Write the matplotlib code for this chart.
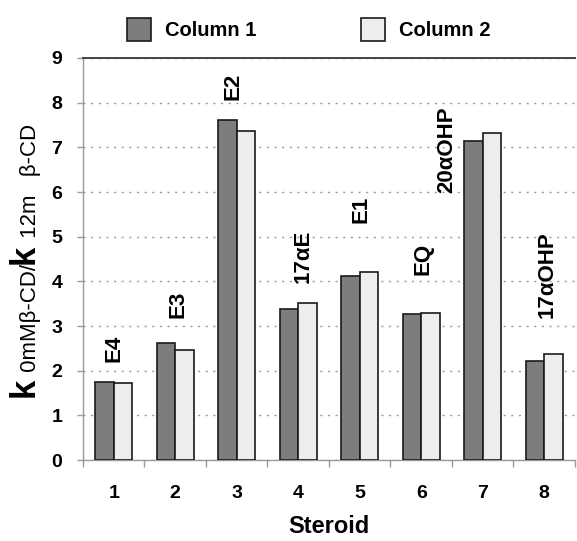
import matplotlib
matplotlib.use('Agg')
import matplotlib.pyplot as plt
import numpy as np

plt.rcParams['font.family'] = ['Liberation Sans', 'DejaVu Sans']

# values
steroids = ['1', '2', '3', '4', '5', '6', '7', '8']
column1 = [1.74, 2.62, 7.62, 3.38, 4.13, 3.26, 7.15, 2.22]
column2 = [1.72, 2.47, 7.37, 3.52, 4.20, 3.30, 7.31, 2.37]
names = ['E4', 'E3', 'E2', '17\u03b1E', 'E1', 'EQ', '20\u03b1OHP', '17\u03b1OHP']

# where the rotated names sit (x shift from the group centre, bottom y)
name_dx = [0.0, 0.05, -0.06, 0.08, 0.02, 0.03, -0.58, 0.05]
name_y = [2.2, 3.18, 8.05, 3.96, 5.3, 4.14, 5.97, 3.18]

fig = plt.figure(figsize=(5.77, 5.41), dpi=100)
ax = fig.add_axes([0.1438, 0.1497, 0.8527, 0.7431])

x = np.arange(len(steroids))
w = 0.30
ax.bar(x - w / 2, column1, w, color='#7d7d7d', edgecolor='#1a1a1a', linewidth=1.2,
       label='Column 1', zorder=3)
ax.bar(x + w / 2, column2, w, color='#ededed', edgecolor='#1a1a1a', linewidth=1.2,
       label='Column 2', zorder=3)

for i, name in enumerate(names):
    ax.text(x[i] + name_dx[i], name_y[i], name, rotation=90, ha='center', va='bottom',
            fontsize=16, fontweight='bold', zorder=4)

ax.set_xlim(-0.5, len(steroids) - 0.5)
ax.set_ylim(0, 9)
ax.set_yticks(range(0, 10))
ax.set_xticks(x)
ax.set_xticklabels(steroids)
ax.set_xticks(np.arange(len(steroids) + 1) - 0.5, minor=True)

ax.tick_params(axis='x', which='major', length=0, pad=18, labelsize=14)
ax.tick_params(axis='x', which='minor', length=5, width=1, color='#999999', direction='out')
ax.tick_params(axis='y', length=4, width=1, color='#999999', pad=11, labelsize=14)
for lab in ax.get_xticklabels() + ax.get_yticklabels():
    lab.set_fontweight('bold')

ax.grid(axis='y', linestyle=(0, (1.5, 4)), color='#9a9a9a', linewidth=1, zorder=0)
for side in ['left', 'bottom']:
    ax.spines[side].set_color('#999999')
    ax.spines[side].set_linewidth(1)
ax.spines['right'].set_visible(False)
ax.spines['top'].set_color('#444444')
ax.spines['top'].set_linewidth(1.4)

ax.set_xlabel('Steroid', fontsize=17, fontweight='bold', labelpad=9)

# y label made of mixed-size pieces, stacked bottom to top
pieces = [('k', 25, 'bold'), (' 0mM\u03b2-CD/', 16, 'normal'), ('k', 25, 'bold'),
          (' 12m   \u03b2-CD', 16, 'normal')]
prev = None
for txt, size, weight in pieces:
    if prev is None:
        prev = ax.annotate(txt, xy=(41, 541 - 397), xycoords='figure pixels', rotation=90,
                           ha='right', va='bottom', fontsize=size, fontweight=weight,
                           annotation_clip=False)
    else:
        prev = ax.annotate(txt, xy=(1, 1), xycoords=prev, rotation=90,
                           ha='right', va='bottom', fontsize=size, fontweight=weight,
                           annotation_clip=False)

fig.legend(loc='upper center', bbox_to_anchor=(0.535, 1.0), ncol=2, frameon=False,
           prop={'size': 14.5, 'weight': 'bold'}, handlelength=1.2, handleheight=1.4,
           columnspacing=5.2, handletextpad=0.7)

plt.savefig('out.png', dpi=100)
